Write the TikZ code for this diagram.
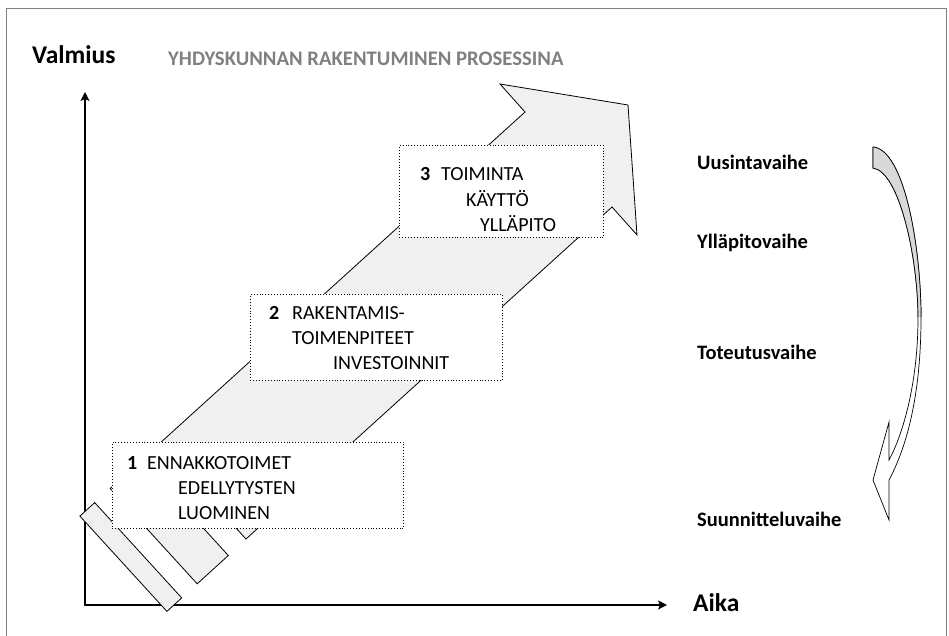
\documentclass[tikz,border=0pt]{standalone}
\usepackage{fontspec}
\setmainfont{Carlito}
\usetikzlibrary{arrows.meta, calc}
\tikzset{
    prosessi/.style={x=1pt, y=-1pt, >={Stealth[length=9pt,width=9pt,inset=2pt]}, line join=miter},
    vaihebox/.style={draw, dotted, line width=0.9pt, fill=white, anchor=north west, inner sep=0pt},
    rivi/.style={anchor=base west, inner sep=0pt, font=\fontsize{20}{24}\selectfont},
    numero/.style={rivi, font=\fontsize{20}{24}\selectfont\bfseries},
    vaihe/.style={anchor=base west, inner sep=0pt, font=\fontsize{20.5}{24}\selectfont\bfseries},
    akseli/.style={anchor=base west, inner sep=0pt, font=\fontsize{25.5}{30}\selectfont\bfseries},
    nuoli/.style={draw, line width=0.8pt, fill=black!6},
    kaari/.style={draw, line width=0.7pt},
}
\begin{document}
\begin{tikzpicture}[prosessi]
    \useasboundingbox (0,0) rectangle (949,636);
    \clip (0,0) rectangle (949,636);
    \draw[gray, line width=1pt] (6,9) rectangle (946,660);

    % axes
    \coordinate (origo) at (85,605);
    \coordinate (ylos)  at (85,92);
    \coordinate (oikea) at (667,605);
    \draw[->, line width=1.2pt] (origo) -- (ylos);
    \draw[->, line width=1.2pt] ($(origo)+(-1,0)$) -- (oikea);

    \node[akseli] (valmius) at (32,64) {Valmius};
    \node[akseli] (aika) at (693,611) {Aika};
    \node[anchor=base west, inner sep=0pt, text=black!50, font=\fontsize{20.7}{24}\selectfont\bfseries]
        (otsikko) at (168,66) {YHDYSKUNNAN RAKENTUMINEN PROSESSINA};

    % striped arrow
    \draw[nuoli] (159,444) -- (525,112) -- (500,84) -- (628,105) -- (637,235)
        -- (612,207) -- (246,539) -- cycle;
    \draw[nuoli] (141.3,460.2) -- (228.3,555.5) -- (197.2,583.8) -- (110.2,488.5) -- cycle;
    \draw[nuoli] (94.7,502.6) -- (181.7,597.9) -- (166.9,611.4) -- (79.9,516.1) -- cycle;

    % phase boxes
    \node[vaihebox, minimum width=291pt, minimum height=86pt] (box1) at (112,442) {};
    \node[numero] (n1) at (127,469) {1};
    \node[rivi] (r11) at (147,469) {ENNAKKOTOIMET};
    \node[rivi] (r12) at (178,494) {EDELLYTYSTEN};
    \node[rivi] (r13) at (178,519) {LUOMINEN};

    \node[vaihebox, minimum width=252pt, minimum height=86pt] (box2) at (250,294) {};
    \node[numero] (n2) at (269,319) {2};
    \node[rivi] (r21) at (292,319) {RAKENTAMIS-};
    \node[rivi] (r22) at (292,344) {TOIMENPITEET};
    \node[rivi] (r23) at (333,369) {INVESTOINNIT};

    \node[vaihebox, minimum width=204pt, minimum height=92pt] (box3) at (399,145) {};
    \node[numero] (n3) at (420,181) {3};
    \node[rivi] (r31) at (441,181) {TOIMINTA};
    \node[rivi] (r32) at (466,207) {KÄYTTÖ};
    \node[rivi] (r33) at (480,232) {YLLÄPITO};

    % phases on the right
    \node[vaihe] (uusinta)     at (697,170) {Uusintavaihe};
    \node[vaihe] (yllapito)    at (697,248) {Ylläpitovaihe};
    \node[vaihe] (toteutus)    at (697,359) {Toteutusvaihe};
    \node[vaihe] (suunnittelu) at (697,526) {Suunnitteluvaihe};

    % curved arrow
    \draw[kaari, fill=white] (873,480) -- (889,422) -- (889,460)
        .. controls (900,440) and (918,390) .. (918,317)
        .. controls (918,260) and (900,172) .. (873,168) -- (873,147)
        .. controls (905,150) and (921,250) .. (921,317)
        .. controls (921,400) and (905,450) .. (889,480) -- (889,520) -- cycle;
    \fill[black!15] (873,147) .. controls (905,150) and (921,250) .. (921,317)
        -- (918,317) .. controls (918,260) and (900,172) .. (873,168) -- cycle;
    \draw[kaari] (873,147) .. controls (905,150) and (921,250) .. (921,317);
    \draw[kaari] (918,317) .. controls (918,260) and (900,172) .. (873,168) -- (873,147);
\end{tikzpicture}
\end{document}
